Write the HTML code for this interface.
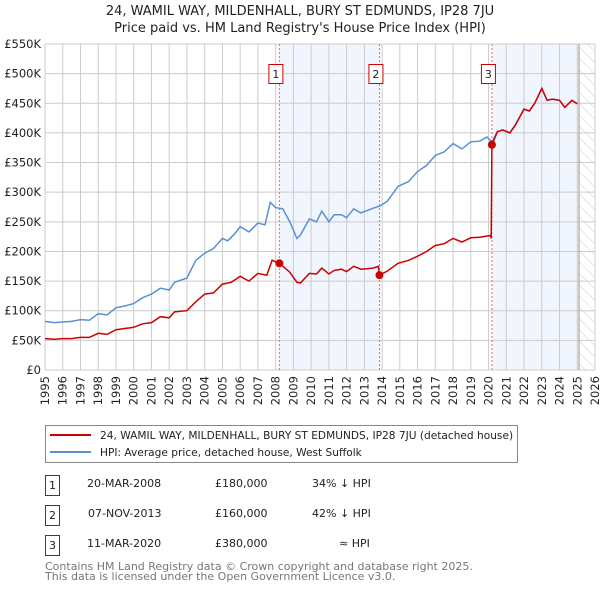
<!DOCTYPE html>
<html><head><meta charset="utf-8"><style>
body{margin:0;background:#fff;font-family:"DejaVu Sans","Liberation Sans",sans-serif;}
svg{display:block}
</style></head><body>
<svg id="c" width="600" height="590" viewBox="0 0 600 590" xmlns="http://www.w3.org/2000/svg" font-family="DejaVu Sans, Liberation Sans, sans-serif">
<defs><pattern id="hatch" width="8" height="8" patternUnits="userSpaceOnUse" patternTransform="rotate(-45)"><line x1="0" y1="0" x2="0" y2="8" stroke="#ccc" stroke-width="1"/></pattern></defs>
<text x="300" y="15" text-anchor="middle" font-size="13" fill="#222">24, WAMIL WAY, MILDENHALL, BURY ST EDMUNDS, IP28 7JU</text>
<text x="300" y="32" text-anchor="middle" font-size="13" fill="#222">Price paid vs. HM Land Registry's House Price Index (HPI)</text>
<g id="plot"></g>
<g>
<rect x="45.5" y="425.5" width="472" height="37" fill="#fff" stroke="#888"/>
<line x1="50" y1="435" x2="91" y2="435" stroke="#cc0000" stroke-width="2"/>
<text x="100" y="439" font-size="10.6" fill="#222">24, WAMIL WAY, MILDENHALL, BURY ST EDMUNDS, IP28 7JU (detached house)</text>
<line x1="50" y1="452" x2="91" y2="452" stroke="#5b8fd4" stroke-width="2"/>
<text x="100" y="456" font-size="10.6" fill="#222">HPI: Average price, detached house, West Suffolk</text>
</g>
<g font-size="11" fill="#222">
<rect x="45.5" y="475.5" width="14" height="20" fill="#fff" stroke="#cc0000"/><text x="52.5" y="489" text-anchor="middle">1</text>
<text x="87" y="487">20-MAR-2008</text><text x="215" y="487">£180,000</text><text x="312" y="487">34% ↓ HPI</text>
<rect x="45.5" y="505.5" width="14" height="20" fill="#fff" stroke="#cc0000"/><text x="52.5" y="519" text-anchor="middle">2</text>
<text x="88" y="517">07-NOV-2013</text><text x="215" y="517">£160,000</text><text x="312" y="517">42% ↓ HPI</text>
<rect x="45.5" y="535.5" width="14" height="20" fill="#fff" stroke="#cc0000"/><text x="52.5" y="549" text-anchor="middle">3</text>
<text x="87" y="547">11-MAR-2020</text><text x="215" y="547">£380,000</text><text x="339" y="547">≈ HPI</text>
</g>
<text x="45" y="570" font-size="11" fill="#777">Contains HM Land Registry data © Crown copyright and database right 2025.</text>
<text x="45" y="580" font-size="11" fill="#777">This data is licensed under the Open Government Licence v3.0.</text>
</svg>
<script>
const yearTicks=[1995,1996,1997,1998,1999,2000,2001,2002,2003,2004,2005,2006,2007,2008,2009,2010,2011,2012,2013,2014,2015,2016,2017,2018,2019,2020,2021,2022,2023,2024,2025,2026];
const valueTicks=[0,50,100,150,200,250,300,350,400,450,500,550];
const hpiDates=[1995,1995.5,1996,1996.5,1997,1997.5,1998,1998.5,1999,1999.5,2000,2000.5,2001,2001.5,2002,2002.3,2003,2003.5,2004,2004.5,2005,2005.3,2005.7,2006,2006.5,2007,2007.4,2007.7,2008,2008.4,2008.8,2009.2,2009.4,2009.9,2010.3,2010.6,2011,2011.3,2011.7,2012,2012.4,2012.8,2013.5,2013.9,2014.3,2014.9,2015.5,2016,2016.5,2017,2017.5,2018,2018.5,2019,2019.5,2019.9,2020.2,2020.5,2020.8,2021.2,2021.5,2022,2022.3,2022.6,2023,2023.3,2023.6,2024,2024.3,2024.7,2025];
const hpiValues=[82,80,81,82,85,84,95,93,105,108,112,122,128,138,135,148,155,185,197,205,222,218,230,242,233,248,245,283,274,272,250,222,228,255,250,268,250,262,262,257,272,265,273,277,285,310,318,335,345,362,368,382,373,385,386,393,385,402,405,400,413,440,437,450,475,455,457,455,443,455,449];
const priceDates=[1995,1995.5,1996,1996.5,1997,1997.5,1998,1998.5,1999,1999.5,2000,2000.5,2001,2001.5,2002,2002.3,2003,2003.5,2004,2004.5,2005,2005.5,2006,2006.5,2007,2007.5,2007.8,2008.21,2008.8,2009.2,2009.4,2009.9,2010.3,2010.6,2011,2011.3,2011.7,2012,2012.4,2012.8,2013.5,2013.8,2013.85,2014.3,2014.9,2015.5,2016,2016.5,2017,2017.5,2018,2018.5,2019,2019.5,2020.1,2020.15,2020.19,2020.5,2020.8,2021.2,2021.5,2022,2022.3,2022.6,2023,2023.3,2023.6,2024,2024.3,2024.7,2025];
const priceValues=[53,52,53,53,55,55,62,60,68,70,72,78,80,90,88,98,100,115,128,130,145,148,158,150,163,160,185,180,165,148,147,163,162,172,162,168,170,166,175,170,172,175,160,167,180,185,192,200,210,213,222,216,223,224,227,222,380,402,405,400,413,440,437,450,475,455,457,455,443,455,449];
const saleDates=[2008.21,2013.85,2020.19];
const saleValues=[180,160,380];
const saleLabels=["1","2","3"];
const X0=45,X1=595,Y0=370,Y1=44;
const xs=y=>X0+(y-1995)/(2026-1995)*(X1-X0);
const ys=v=>Y0-v/550*(Y0-Y1);
const NS="http://www.w3.org/2000/svg";
const g=document.getElementById('plot');
function mk(t,a){const e=document.createElementNS(NS,t);for(const k in a)e.setAttribute(k,a[k]);g.appendChild(e);return e;}
let r=mk('rect',{x:xs(saleDates[0]),y:Y1,width:xs(saleDates[1])-xs(saleDates[0]),height:Y0-Y1,fill:'#eef3fc',opacity:0.8});


r=mk('rect',{x:xs(saleDates[2]),y:Y1,width:xs(2025.1)-xs(saleDates[2]),height:Y0-Y1,fill:'#eef3fc',opacity:0.8});


r=mk('rect',{x:xs(2025.1),y:Y1,width:X1-xs(2025.1),height:Y0-Y1,fill:'url(#hatch)'});


yearTicks.forEach(y=>{const l=mk('line',{x1:xs(y),x2:xs(y),y1:Y1,y2:Y0,stroke:'#ccc','stroke-width':1});


const t=mk('text',{x:0,y:0,transform:`translate(${xs(y)+4},${Y0+6}) rotate(-90)`,'text-anchor':'end','font-size':11.5,fill:'#222'});t.textContent=y;

});
valueTicks.forEach(v=>{const l=mk('line',{x1:X0,x2:X1,y1:ys(v),y2:ys(v),stroke:'#ccc','stroke-width':1});


const t=mk('text',{x:X0-4,y:ys(v)+4,'text-anchor':'end','font-size':11.5,fill:'#222'});t.textContent=v===0?'£0':'£'+v+'K';

});
let vl=mk('line',{x1:xs(2025.1),x2:xs(2025.1),y1:Y1,y2:Y0,stroke:'#999','stroke-width':1});


saleDates.forEach((d,i)=>{const l=mk('line',{x1:xs(d),x2:xs(d),y1:Y1,y2:Y0,stroke:'#e66','stroke-width':1,'stroke-dasharray':'2,2'});


const b=mk('rect',{x:xs(d)-10.5,y:64.5,width:14,height:19,fill:'#fff',stroke:'#cc0000'});


const t=mk('text',{x:xs(d)-3.5,y:78,'text-anchor':'middle','font-size':11,fill:'#222'});t.textContent=saleLabels[i];

});
const pth=(D,V)=>D.map((d,i)=>(i?'L':'M')+xs(d).toFixed(1)+','+ys(V[i]).toFixed(1)).join('');
let p=mk('path',{d:pth(hpiDates,hpiValues),fill:'none',stroke:'#5b8fd4','stroke-width':1.5});


p=mk('path',{d:pth(priceDates,priceValues),fill:'none',stroke:'#cc0000','stroke-width':1.5});


saleDates.forEach((d,i)=>{const c=mk('circle',{cx:xs(d),cy:ys(saleValues[i]),r:4,fill:'#cc0000'});

});
</script>
</body></html>
